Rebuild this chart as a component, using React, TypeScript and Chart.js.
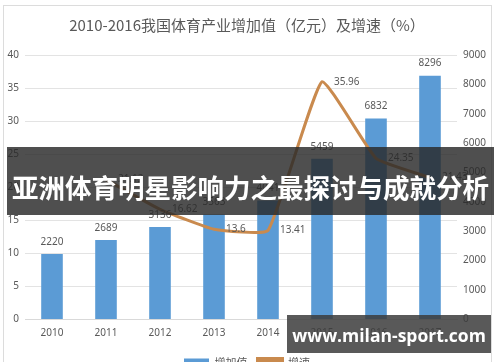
import React, { useEffect, useRef } from "react";
import { Chart, registerables } from "chart.js";

Chart.register(...registerables);

const years = ["2010", "2011", "2012", "2013", "2014", "2015", "2016", "2017"];
const addedValue = [2220, 2689, 3136, 3563, 4041, 5459, 6832, 8296];
const growthRate = [null, 21.12, 16.62, 13.6, 13.41, 35.96, 24.35, 21.43];
const leftTicks = { min: 0, max: 40, step: 5 };
const rightTicks = { min: 0, max: 9000, step: 1000 };
const titleText = "2010-2016我国体育产业增加值（亿元）及增速（%）";
const bannerText = "亚洲体育明星影响力之最探讨与成就分析";
const watermarkText = "www.milan-sport.com";

const BAR = "#5b9bd5";
const LINE = "#c98a4e";
const GRAY = "#595959";
const NUMFONT = "'Noto Sans', 'DejaVu Sans', sans-serif";
const CJK = "'Noto Sans CJK SC', sans-serif";

const labelPlugin = {
  id: "valueLabels",
  afterDatasetsDraw(chart: any) {
    const ctx = chart.ctx;
    ctx.save();
    ctx.font = `10px ${NUMFONT}`;
    ctx.fillStyle = GRAY;
    const bars = chart.getDatasetMeta(0).data;
    ctx.textAlign = "center";
    ctx.textBaseline = "bottom";
    bars.forEach((el: any, i: number) => {
      ctx.fillText(String(addedValue[i]), el.x, el.y - 7);
    });
    const pts = chart.getDatasetMeta(1).data;
    ctx.textAlign = "left";
    ctx.textBaseline = "middle";
    pts.forEach((el: any, i: number) => {
      const v = growthRate[i];
      if (v == null) return;
      ctx.fillText(String(v), el.x + 12, el.y);
    });
    ctx.restore();
  },
};

export default function App() {
  const ref = useRef<HTMLCanvasElement | null>(null);
  useEffect(() => {
    document.body.style.margin = "0";
    if (!ref.current) return;
    const chart = new Chart(ref.current, {
      type: "bar",
      data: {
        labels: years,
        datasets: [
          {
            type: "bar",
            label: "增加值",
            data: addedValue,
            backgroundColor: BAR,
            yAxisID: "y1",
            categoryPercentage: 1,
            barPercentage: 0.4,
            order: 2,
          },
          {
            type: "line",
            label: "增速",
            data: growthRate as any,
            borderColor: LINE,
            backgroundColor: LINE,
            borderWidth: 3,
            pointRadius: 0,
            tension: 0.12,
            yAxisID: "y",
            order: 1,
          },
        ],
      },
      options: {
        animation: false,
        responsive: false,
        maintainAspectRatio: false,
        layout: { padding: { left: 0, right: 6, top: 0, bottom: 0 } },
        plugins: {
          title: {
            display: true,
            text: titleText,
            color: GRAY,
            font: { family: CJK, size: 15, weight: "normal" },
            padding: { top: 16, bottom: 21 },
          },
          legend: {
            position: "bottom",
            labels: {
              color: GRAY,
              font: { family: CJK, size: 11 },
              boxWidth: 25,
              boxHeight: 8,
              sort: (a: any, b: any) => a.datasetIndex - b.datasetIndex,
            },
          },
          tooltip: { enabled: false },
        },
        scales: {
          x: {
            grid: { display: false, drawTicks: false },
            border: { display: true, color: "#d9d9d9" },
            ticks: { color: GRAY, font: { family: NUMFONT, size: 10 }, padding: 8 },
          },
          y: {
            position: "left",
            min: leftTicks.min,
            max: leftTicks.max,
            ticks: { stepSize: leftTicks.step, color: GRAY, font: { family: NUMFONT, size: 10 }, padding: 6 },
            grid: { color: "#e3e3e3", drawTicks: false },
            border: { display: false },
            afterFit(s: any) {
              s.width = 25;
            },
          },
          y1: {
            position: "right",
            min: rightTicks.min,
            max: rightTicks.max,
            ticks: {
              stepSize: rightTicks.step,
              color: GRAY,
              font: { family: NUMFONT, size: 10 },
              padding: 6,
              callback: (v: any) => String(v),
            },
            grid: { display: false, drawTicks: false },
            border: { display: false },
            afterFit(s: any) {
              s.width = 37;
            },
          },
        },
      },
      plugins: [labelPlugin],
    });
    return () => chart.destroy();
  }, []);

  return (
    <div style={{ position: "relative", width: 500, height: 362, overflow: "hidden", background: "#fff" }}>
      <div
        style={{
          position: "absolute",
          left: 3,
          top: 5,
          width: 489,
          height: 380,
          border: "1px solid #dcdcdc",
          boxSizing: "border-box",
        }}
      />
      <canvas ref={ref} width={500} height={378} style={{ position: "absolute", left: 0, top: 0 }} />
      <div
        style={{
          position: "absolute",
          left: 7,
          top: 147,
          width: 487,
          height: 68,
          background: "rgba(40,40,40,0.82)",
          color: "#fff",
          fontFamily: CJK,
          fontWeight: 700,
          fontSize: 26.5,
          lineHeight: "68px",
          whiteSpace: "nowrap",
          textAlign: "center",
          paddingTop: 6,
          boxSizing: "border-box",
        }}
      >
        {bannerText}
      </div>
      <div
        style={{
          position: "absolute",
          left: 287,
          top: 315,
          width: 204,
          height: 38,
          background: "rgba(60,60,60,0.85)",
          color: "#fff",
          fontFamily: "'Open Sans', 'DejaVu Sans', sans-serif",
          fontWeight: 700,
          fontSize: 17.5,
          lineHeight: "40px",
          textAlign: "center",
          whiteSpace: "nowrap",
        }}
      >
        {watermarkText}
      </div>
    </div>
  );
}
